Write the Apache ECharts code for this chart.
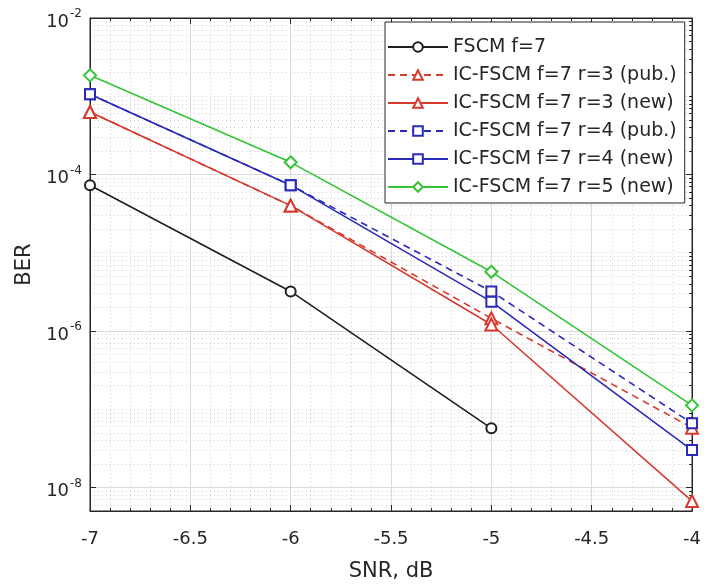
<!DOCTYPE html>
<html>
<head>
<meta charset="utf-8">
<script src="https://cdn.jsdelivr.net/npm/echarts@6/dist/echarts.min.js"></script>
<style>html,body{margin:0;padding:0;background:#fff}#c{width:704px;height:587px}</style>
</head>
<body>
<div id="c"></div>
<script>
// ---- data ----
const snr = [-7, -6, -5, -4];
const seriesNames = [
  'FSCM f=7',
  'IC-FSCM f=7 r=3 (pub.)',
  'IC-FSCM f=7 r=3 (new)',
  'IC-FSCM f=7 r=4 (pub.)',
  'IC-FSCM f=7 r=4 (new)',
  'IC-FSCM f=7 r=5 (new)'
];
const fscm   = [7.3e-5, 3.2e-6, 5.7e-8];
const r3pub  = [6.3e-4, 4.0e-5, 1.45e-6, 5.8e-8];
const r3new  = [6.3e-4, 4.0e-5, 1.21e-6, 6.7e-9];
const r4pub  = [1.06e-3, 7.3e-5, 3.2e-6, 6.6e-8];
const r4new  = [1.06e-3, 7.3e-5, 2.37e-6, 3.0e-8];
const r5new  = [1.85e-3, 1.43e-4, 5.7e-6, 1.12e-7];
const xTicks = [-7, -6.5, -6, -5.5, -5, -4.5, -4];
const yTicks = [1e-8, 1e-6, 1e-4, 1e-2];
const yMin = 5e-9, yMax = 1e-2;

// ---- helpers ----
const pair = arr => arr.map((v, i) => [snr[i], v]);
const minorY = [];
for (let e = -9; e <= -3; e++) {
  for (let k = 1; k <= 9; k++) {
    const v = k * Math.pow(10, e);
    const isMajor = (k === 1 && e % 2 === 0);
    if (v > yMin * 1.0001 && v < yMax * 0.9999 && !isMajor) minorY.push(v);
  }
}
const FONT = 'DejaVu Sans';
const AX = '#262626';
const colBlack = '#1e1e1e', colRed = '#d63a2e', colBlue = '#2a2ab8', colGreen = '#35c435';

function mk(name, data, color, symbol, size, dashed) {
  return {
    name, type: 'line', data: pair(data), z: 3, yAxisIndex: 0,
    symbol, symbolSize: size, showSymbol: true,
    itemStyle: { color, borderColor: color, borderWidth: 1.3 },
    lineStyle: { color, width: 1.6, type: dashed ? [7, 5] : 'solid' },
    animation: false
  };
}
const yLabel = v => {
  const e = Math.log10(v), r = Math.round(e);
  if (Math.abs(e - r) > 1e-6) return '';
  return '{b|10}{s|' + r + '}';
};
const logAxisBase = { type: 'log', logBase: 10, min: yMin, max: yMax };

const chart = echarts.init(document.getElementById('c'));
chart.setOption({
  backgroundColor: '#fff',
  animation: false,
  textStyle: { fontFamily: FONT },
  grid: { left: 90, right: 6, top: 18, bottom: 70, show: true, borderColor: AX, borderWidth: 1, backgroundColor: '#fff' },
  legend: {
    data: seriesNames, orient: 'vertical', left: 385, top: 22,
    backgroundColor: '#fff', borderColor: AX, borderWidth: 1,
    padding: [15, 8, 6, 2], itemGap: 8, itemWidth: 60, itemHeight: 12,
    textStyle: { fontFamily: FONT, fontSize: 19, color: AX, lineHeight: 20 }
  },
  xAxis: [{
    type: 'value', min: -7, max: -4, interval: 0.5,
    name: 'SNR, dB', nameLocation: 'middle', nameGap: 50,
    nameTextStyle: { fontFamily: FONT, fontSize: 21, color: AX },
    axisLine: { show: true, lineStyle: { color: AX } },
    axisTick: { show: true, inside: true, length: 6, lineStyle: { color: AX } },
    minorTick: { show: true, splitNumber: 5, length: 3, lineStyle: { color: AX } },
    axisLabel: { fontFamily: FONT, fontSize: 18, color: AX, margin: 19, formatter: v => String(v) },
    splitLine: { show: true, lineStyle: { color: '#dadada', width: 1 } },
    minorSplitLine: { show: true, lineStyle: { color: '#cfcfcf', width: 1, type: [1, 3] } }
  }, {
    type: 'value', min: -7, max: -4, interval: 0.5, position: 'top',
    axisLine: { show: true, lineStyle: { color: AX } },
    axisTick: { show: true, inside: true, length: 6, lineStyle: { color: AX } },
    minorTick: { show: true, splitNumber: 5, length: 3, lineStyle: { color: AX } },
    axisLabel: { show: false }, splitLine: { show: false }
  }],
  yAxis: [Object.assign({}, logAxisBase, {
    position: 'left',
    name: 'BER', nameLocation: 'middle', nameGap: 53,
    nameTextStyle: { fontFamily: FONT, fontSize: 21, color: AX },
    axisLine: { show: true, lineStyle: { color: AX } },
    axisTick: { show: true, inside: true, length: 6, customValues: yTicks, lineStyle: { color: AX } },
    axisLabel: {
      margin: 8, formatter: yLabel, color: AX, customValues: yTicks,
      rich: {
        b: { fontFamily: FONT, fontSize: 18, color: AX, padding: [8, 0, 0, 0] },
        s: { fontFamily: FONT, fontSize: 12, color: AX, padding: [0, 0, 8, 1] }
      }
    },
    splitLine: { show: true, lineStyle: { color: '#dadada', width: 1 } }
  }), Object.assign({}, logAxisBase, {
    position: 'right',
    axisLine: { show: true, lineStyle: { color: AX } },
    axisTick: { show: true, inside: true, length: 3, customValues: minorY, lineStyle: { color: AX } },
    axisLabel: { show: false, customValues: minorY },
    splitLine: { show: true, lineStyle: { color: '#cfcfcf', width: 1, type: [1, 3] } }
  }), Object.assign({}, logAxisBase, {
    position: 'right',
    axisLine: { show: false },
    axisTick: { show: true, inside: true, length: 6, customValues: yTicks, lineStyle: { color: AX } },
    axisLabel: { show: false, customValues: yTicks },
    splitLine: { show: false }
  })],
  series: [
    mk(seriesNames[0], fscm, colBlack, 'emptyCircle', 10, false),
    mk(seriesNames[1], r3pub, colRed, 'emptyTriangle', 12, true),
    mk(seriesNames[2], r3new, colRed, 'emptyTriangle', 12, false),
    mk(seriesNames[3], r4pub, colBlue, 'emptyRect', 10, true),
    mk(seriesNames[4], r4new, colBlue, 'emptyRect', 10, false),
    mk(seriesNames[5], r5new, colGreen, 'emptyDiamond', 12, false)
  ]
});
</script>
</body>
</html>
